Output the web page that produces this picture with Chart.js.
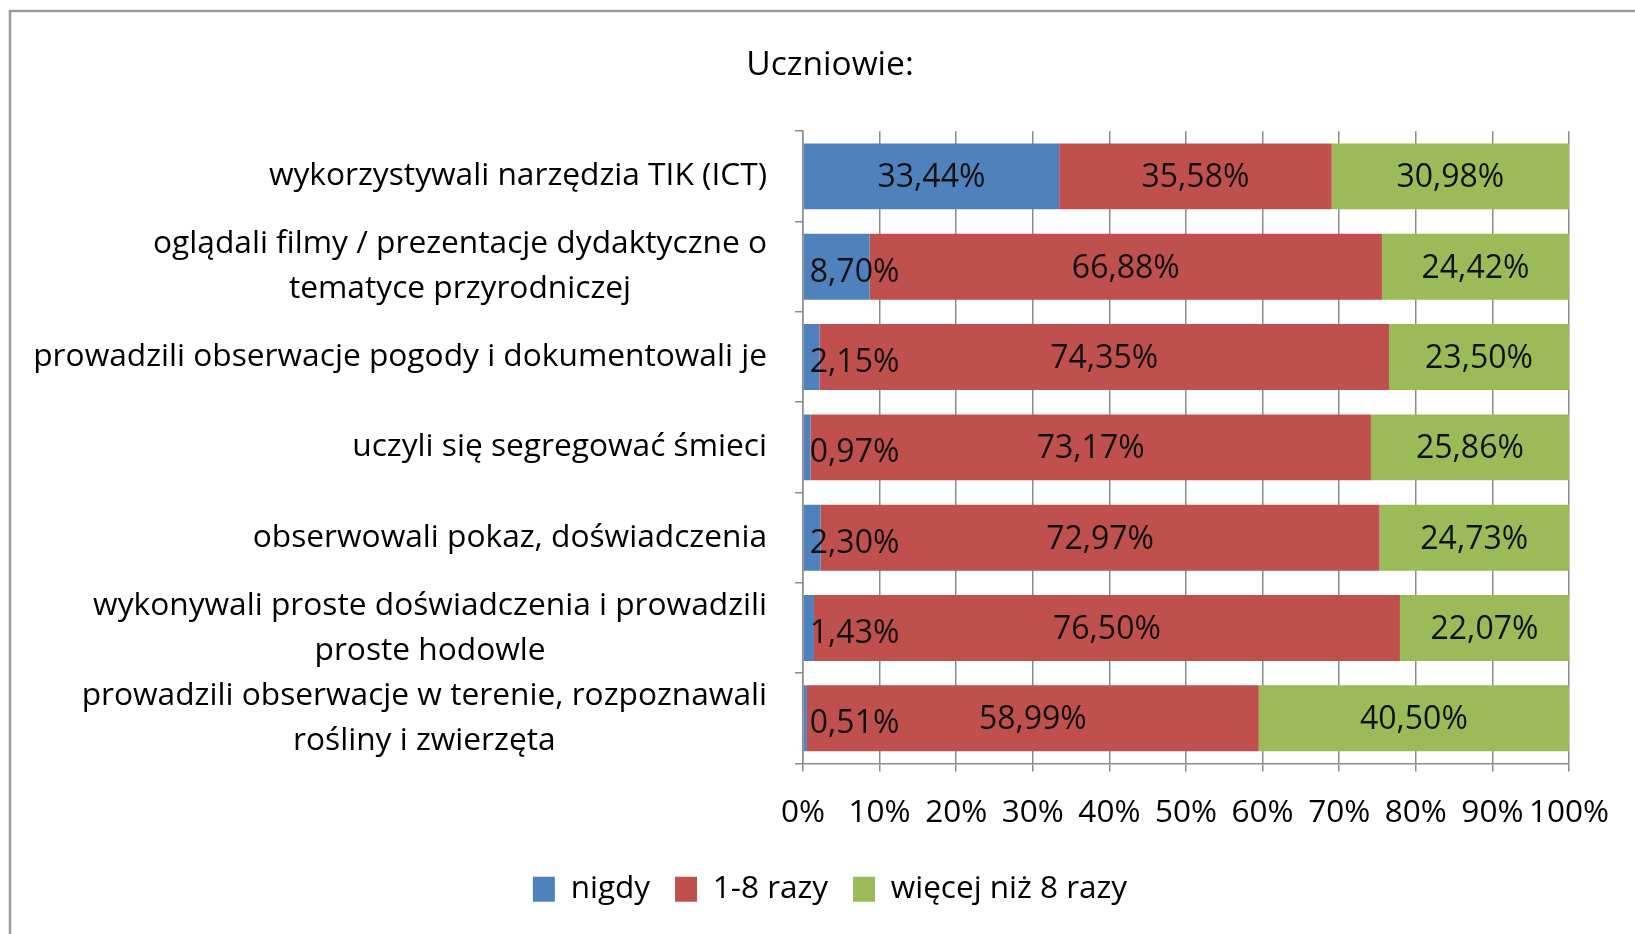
<!DOCTYPE html>
<html>
<head>
<meta charset="utf-8">
<script src="https://cdn.jsdelivr.net/npm/chart.js@4/dist/chart.umd.min.js"></script>
<style>
    html, body { margin: 0; padding: 0; background: #fff; overflow: hidden; }
    #wrap { position: relative; width: 1635px; height: 934px; }
</style>
</head>
<body>
<div id="wrap"><canvas id="uczniowieChart"></canvas></div>
<script>
// Chart data
const categories = [
    ["wykorzystywali narzędzia TIK (ICT)"],
    ["oglądali filmy / prezentacje dydaktyczne o", "tematyce przyrodniczej"],
    ["prowadzili obserwacje pogody i dokumentowali je"],
    ["uczyli się segregować śmieci"],
    ["obserwowali pokaz, doświadczenia"],
    ["wykonywali proste doświadczenia i prowadzili", "proste hodowle"],
    ["prowadzili obserwacje w terenie, rozpoznawali", "rośliny i zwierzęta"],
];
const seriesNames = ["nigdy", "1-8 razy", "więcej niż 8 razy"];
const nigdy = [33.44, 8.7, 2.15, 0.97, 2.3, 1.43, 0.51];
const razy1do8 = [35.58, 66.88, 74.35, 73.17, 72.97, 76.5, 58.99];
const wiecej = [30.98, 24.42, 23.5, 25.86, 24.73, 22.07, 40.5];
const xTicks = [0, 10, 20, 30, 40, 50, 60, 70, 80, 90, 100];

const FONT = "'Open Sans', Lato, sans-serif";

document.addEventListener("DOMContentLoaded", () => {
    const ctx = document.getElementById("uczniowieChart").getContext("2d");

    const formatPct = (v) => v.toFixed(2).replace(".", ",") + "%";

    // grey frame round the whole chart (right/bottom edges run off the page)
    const frame = {
        id: "frame",
        beforeDraw(chart) {
            const { ctx } = chart;
            ctx.save();
            ctx.strokeStyle = "#9a9a9a";
            ctx.lineWidth = 2.5;
            ctx.strokeRect(10, 11, 2000, 2000);
            ctx.restore();
        },
    };

    // category labels: each block right-aligned, its lines centred
    const categoryLabels = {
        id: "categoryLabels",
        afterDraw(chart) {
            const { ctx } = chart;
            const yScale = chart.scales.y;
            const rightEdge = yScale.right - 36;
            ctx.save();
            ctx.font = "31.7px " + FONT;
            ctx.fillStyle = "#000";
            ctx.textAlign = "center";
            ctx.textBaseline = "middle";
            categories.forEach((lines, i) => {
                const yc = yScale.getPixelForValue(i);
                const w = Math.max(...lines.map((l) => ctx.measureText(l).width));
                const xc = rightEdge - w / 2;
                const lh = 45;
                const y0 = yc - ((lines.length - 1) * lh) / 2;
                lines.forEach((l, j) => ctx.fillText(l, xc, y0 + j * lh));
            });
            ctx.restore();
        },
    };

    // value labels inside the bars
    const valueLabels = {
        id: "valueLabels",
        afterDatasetsDraw(chart) {
            const { ctx } = chart;
            ctx.save();
            ctx.font = "32px " + FONT;
            ctx.fillStyle = "#111";
            ctx.textBaseline = "middle";
            chart.data.datasets.forEach((ds, di) => {
                const meta = chart.getDatasetMeta(di);
                meta.data.forEach((bar, i) => {
                    const text = formatPct(ds.data[i]);
                    const left = Math.min(bar.x, bar.base);
                    const width = Math.abs(bar.x - bar.base);
                    if (width < ctx.measureText(text).width) {
                        ctx.textAlign = "left";
                        ctx.fillText(text, left + 6, bar.y + 6);
                    } else {
                        ctx.textAlign = "center";
                        ctx.fillText(text, left + width / 2, bar.y + 2);
                    }
                });
            });
            ctx.restore();
        },
    };

    const data = {
        labels: categories.map((c) => c.join(" ")),
        datasets: [
            { label: seriesNames[0], data: nigdy, backgroundColor: "#4f81bd" },
            { label: seriesNames[1], data: razy1do8, backgroundColor: "#c0504d" },
            { label: seriesNames[2], data: wiecej, backgroundColor: "#9bbb59" },
        ],
    };

    const config = {
        type: "bar",
        data,
        options: {
            indexAxis: "y",
            responsive: true,
            maintainAspectRatio: false,
            animation: false,
            categoryPercentage: 1,
            barPercentage: 0.73,
            layout: { padding: { left: 91, right: 66, top: 0, bottom: 19 } },
            scales: {
                x: {
                    stacked: true,
                    min: 0,
                    max: 100,
                    afterBuildTicks(scale) {
                        scale.ticks = xTicks.map((v) => ({ value: v }));
                    },
                    afterFit(scale) {
                        scale.height = 85;
                    },
                    grid: {
                        color: "#8c8c8c",
                        lineWidth: 1.5,
                        tickLength: 8,
                    },
                    border: { color: "#8c8c8c", width: 1.5 },
                    ticks: {
                        padding: 23,
                        color: "#000",
                        font: { family: FONT, size: 31.5 },
                        maxRotation: 0,
                        autoSkip: false,
                        callback: (v) => v + "%",
                    },
                },
                y: {
                    stacked: true,
                    afterFit(scale) {
                        scale.width = 803 - 91;
                    },
                    grid: {
                        offset: true,
                        drawOnChartArea: false,
                        color: "#8c8c8c",
                        lineWidth: 1.5,
                        tickLength: 8,
                    },
                    border: { color: "#8c8c8c", width: 1.5 },
                    ticks: { display: false },
                },
            },
            plugins: {
                title: {
                    display: true,
                    text: "Uczniowie:",
                    color: "#000",
                    font: { family: FONT, size: 33.5, weight: "normal" },
                    padding: { top: 45, bottom: 46 },
                },
                legend: {
                    position: "bottom",
                    labels: {
                        color: "#000",
                        font: { family: FONT, size: 31.5 },
                        boxWidth: 22,
                        boxHeight: 25,
                        padding: 25,
                    },
                },
                tooltip: { enabled: false },
            },
        },
        plugins: [frame, valueLabels, categoryLabels],
    };

    new Chart(ctx, config);
});
</script>
</body>
</html>
